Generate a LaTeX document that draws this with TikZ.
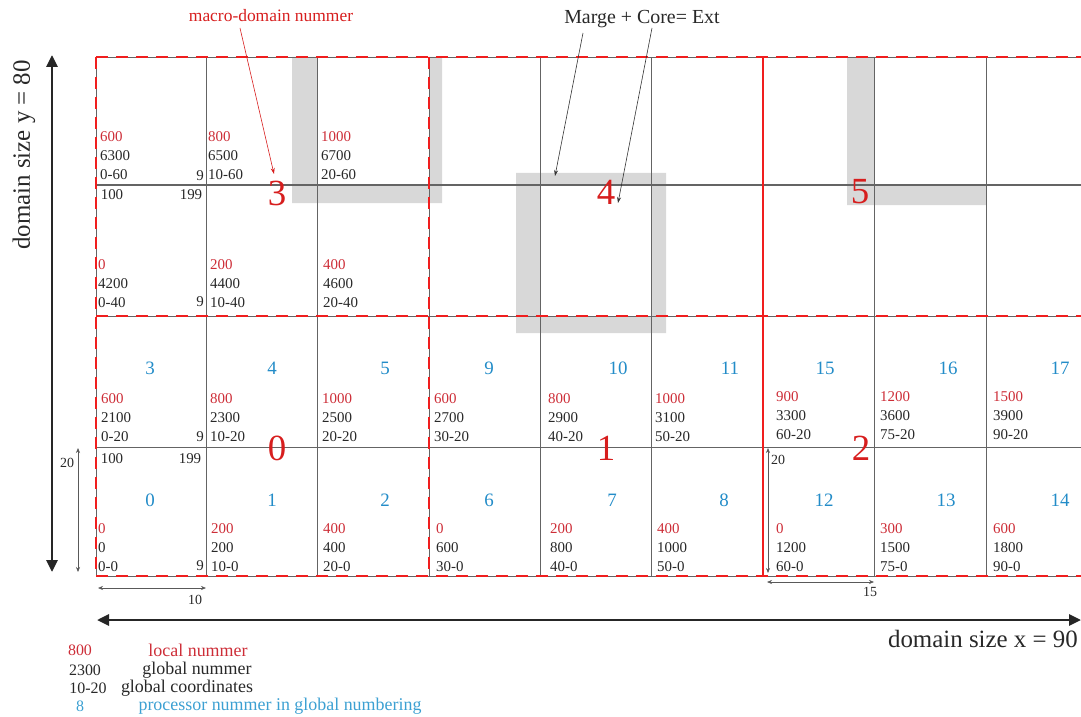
\documentclass[tikz,border=0pt]{standalone}
\usepackage{fontspec}
\setmainfont{Liberation Serif}
\usetikzlibrary{arrows.meta}
\definecolor{locred}{RGB}{205,45,55}
\definecolor{macred}{RGB}{215,30,30}
\definecolor{procblue}{RGB}{35,140,200}
\definecolor{legblue}{RGB}{60,160,210}
\definecolor{gridgray}{RGB}{100,100,100}
\definecolor{shadegray}{RGB}{216,216,216}
\definecolor{dashred}{RGB}{240,30,30}
\definecolor{txtblack}{RGB}{40,40,40}
\tikzset{
  celltxt/.style={anchor=west, inner sep=0pt, font=\fontsize{15}{18}\selectfont},
  loc/.style={celltxt, text=locred},
  glob/.style={celltxt, text=txtblack},
  smalltxt/.style={inner sep=0pt, text=txtblack, font=\fontsize{15}{18}\selectfont},
  proc/.style={inner sep=0pt, text=procblue, font=\fontsize{19}{22}\selectfont},
  macro/.style={inner sep=0pt, text=macred, font=\fontsize{37}{40}\selectfont},
  gridline/.style={draw=gridgray, line width=0.9bp},
  reddash/.style={draw=dashred, line width=1.6bp, dash pattern=on 12bp off 8bp},
  redsolid/.style={draw=dashred, line width=1.6bp},
  bigarrow/.style={draw=black!85, line width=2.8bp, {Triangle[length=12bp,width=11bp]}-{Triangle[length=12bp,width=11bp]}},
  dimarrow/.style={draw=black!65, line width=0.6bp, {Stealth[length=5bp,width=4bp]}-{Stealth[length=5bp,width=4bp]}},
  annarrow/.style={draw=black!80, line width=0.6bp, -{Stealth[length=6bp,width=4bp]}},
  redarrow/.style={draw=macred, line width=0.6bp, -{Stealth[length=6bp,width=4bp]}},
  legtxt/.style={inner sep=0pt, font=\fontsize{18}{20}\selectfont},
  legnum/.style={inner sep=0pt, font=\fontsize{16}{18}\selectfont},
}
\newcommand\cellinfo[6]{%
  \node[loc] (#1l) at (#2,#3) {#4};
  \node[glob] (#1g) at (#2,#3+18.5) {#5};
  \node[glob] (#1c) at (#2,#3+38) {#6};
}
\begin{document}
\begin{tikzpicture}[x=1bp,y=-1bp]
\useasboundingbox (0,0) rectangle (1081,717);
% shaded Marge regions
\fill[shadegray, even odd rule] (292,57) rectangle (442,203) (317,57) rectangle (429,185);
\fill[shadegray, even odd rule] (516,173) rectangle (666,333) (540,185) rectangle (651,316);
\fill[shadegray, even odd rule] (847,57) rectangle (986,205) (874,57) rectangle (986,185);
% grid
\foreach \yy in {57,185,316,447,576} \draw[gridline] (96,\yy) -- (1081,\yy);
\draw[gridline, line width=1.4bp] (96,185) -- (1081,185);
\foreach \xx in {96,206,317,429,540,651,874,986} \draw[gridline] (\xx,57) -- (\xx,576);
\foreach \yy in {57,316,576} \draw[reddash] (96,\yy) -- (1081,\yy);
\foreach \xx in {96,429} \draw[reddash] (\xx,57) -- (\xx,576);
\draw[redsolid] (763,57) -- (763,576);
% macro-domain numbers
\node[macro] (m3) at (277,193) {3};
\node[macro] (m4) at (606,192) {4};
\node[macro] (m5) at (860,192) {5};
\node[macro] (m0) at (277,448) {0};
\node[macro] (m1) at (606,448) {1};
\node[macro] (m2) at (861,448) {2};
% cell info
\cellinfo{ra}{100}{137}{600}{6300}{0-60}
\cellinfo{rb}{208}{137}{800}{6500}{10-60}
\cellinfo{rc}{321}{137}{1000}{6700}{20-60}
\cellinfo{rd}{98}{265}{0}{4200}{0-40}
\cellinfo{re}{210}{265}{200}{4400}{10-40}
\cellinfo{rf}{323}{265}{400}{4600}{20-40}
\cellinfo{rg}{101}{399}{600}{2100}{0-20}
\cellinfo{rh}{210}{399}{800}{2300}{10-20}
\cellinfo{ri}{322}{399}{1000}{2500}{20-20}
\cellinfo{rj}{434}{399}{600}{2700}{30-20}
\cellinfo{rk}{548}{399}{800}{2900}{40-20}
\cellinfo{rl}{655}{399}{1000}{3100}{50-20}
\cellinfo{rm}{776}{397}{900}{3300}{60-20}
\cellinfo{rn}{880}{397}{1200}{3600}{75-20}
\cellinfo{ro}{993}{397}{1500}{3900}{90-20}
\cellinfo{rq}{98}{529}{0}{0}{0-0}
\cellinfo{rr}{211}{529}{200}{200}{10-0}
\cellinfo{rs}{323}{529}{400}{400}{20-0}
\cellinfo{rt}{436}{529}{0}{600}{30-0}
\cellinfo{ru}{550}{529}{200}{800}{40-0}
\cellinfo{rv}{657}{529}{400}{1000}{50-0}
\cellinfo{rw}{776}{529}{0}{1200}{60-0}
\cellinfo{ry}{880}{529}{300}{1500}{75-0}
\cellinfo{rz}{993}{529}{600}{1800}{90-0}
% local index bounds
\node[smalltxt, anchor=east] (nine1) at (204,176) {9};
\node[smalltxt, anchor=east] (nine2) at (204,302) {9};
\node[smalltxt, anchor=east] (nine3) at (204,437) {9};
\node[smalltxt, anchor=east] (nine4) at (204,566) {9};
\node[smalltxt] (hund1) at (112,195) {100};
\node[smalltxt] (hnn1) at (191,195) {199};
\node[smalltxt] (hund2) at (112,459) {100};
\node[smalltxt] (hnn2) at (190,459) {199};
% processor numbers
\foreach \n/\px/\py in {3/150/368, 4/272/368, 5/385/368, 9/489/368, 10/618/368, 11/730/368, 15/825/368, 16/948/368, 17/1060/368,
  0/150/500, 1/272/500, 2/385/500, 6/489/500, 7/612/500, 8/724/500, 12/824/500, 13/946/500, 14/1060/500}
  \node[proc] (proc\n) at (\px,\py) {\n};
% annotations
\node[inner sep=0pt, font=\fontsize{20}{22}\selectfont, text=txtblack] (mce) at (642,19) {Marge + Core= Ext};
\coordinate (margeS) at (583,33);
\coordinate (margeE) at (555,176);
\coordinate (coreS) at (652,28);
\coordinate (coreE) at (618,203);
\draw[annarrow] (margeS) -- (margeE);
\draw[annarrow] (coreS) -- (coreE);
\node[inner sep=0pt, font=\fontsize{17.5}{20}\selectfont, text=macred] (mdn) at (271,16) {macro-domain nummer};
\coordinate (mdnS) at (240,28);
\coordinate (mdnE) at (274,174);
\draw[redarrow] (mdnS) -- (mdnE);
% big domain arrows
\coordinate (ytop) at (52,55);
\coordinate (ybot) at (52,572);
\draw[bigarrow] (ytop) -- (ybot);
\node[inner sep=0pt, rotate=90, font=\fontsize{25}{28}\selectfont, text=txtblack] (ylab) at (24,155) {domain size y = 80};
\coordinate (xleft) at (97,620);
\coordinate (xright) at (1081,620);
\draw[bigarrow] (xleft) -- (xright);
\node[inner sep=0pt, anchor=east, font=\fontsize{25}{28}\selectfont, text=txtblack] (xlab) at (1078,639) {domain size x = 90};
% small dimension arrows
\coordinate (d1t) at (78,448);
\coordinate (d1b) at (78,572);
\draw[dimarrow] (d1t) -- (d1b);
\node[smalltxt, font=\fontsize{14}{16}\selectfont] (d1lab) at (67,463) {20};
\coordinate (d2l) at (98,588);
\coordinate (d2r) at (206,588);
\draw[dimarrow] (d2l) -- (d2r);
\node[smalltxt, font=\fontsize{14}{16}\selectfont] (d2lab) at (195,600) {10};
\coordinate (d3t) at (768,448);
\coordinate (d3b) at (768,573);
\draw[dimarrow] (d3t) -- (d3b);
\node[smalltxt, font=\fontsize{14}{16}\selectfont] (d3lab) at (778,460) {20};
\coordinate (d4l) at (767,582);
\coordinate (d4r) at (874,582);
\draw[dimarrow] (d4l) -- (d4r);
\node[smalltxt, font=\fontsize{14}{16}\selectfont] (d4lab) at (870,592) {15};
% legend
\node[legnum, text=locred] (lg1n) at (80,650) {800};
\node[legtxt, text=locred] (lg1t) at (198,650) {local nummer};
\node[legnum, text=txtblack] (lg2n) at (85,670) {2300};
\node[legtxt, text=txtblack] (lg2t) at (197,670) {global nummer};
\node[legnum, text=txtblack] (lg3n) at (88,688) {10-20};
\node[legtxt, text=txtblack] (lg3t) at (187,688) {global coordinates};
\node[legnum, text=legblue] (lg4n) at (80,706) {8};
\node[legtxt, text=legblue] (lg4t) at (280,706) {processor nummer in global numbering};
\end{tikzpicture}
\end{document}
